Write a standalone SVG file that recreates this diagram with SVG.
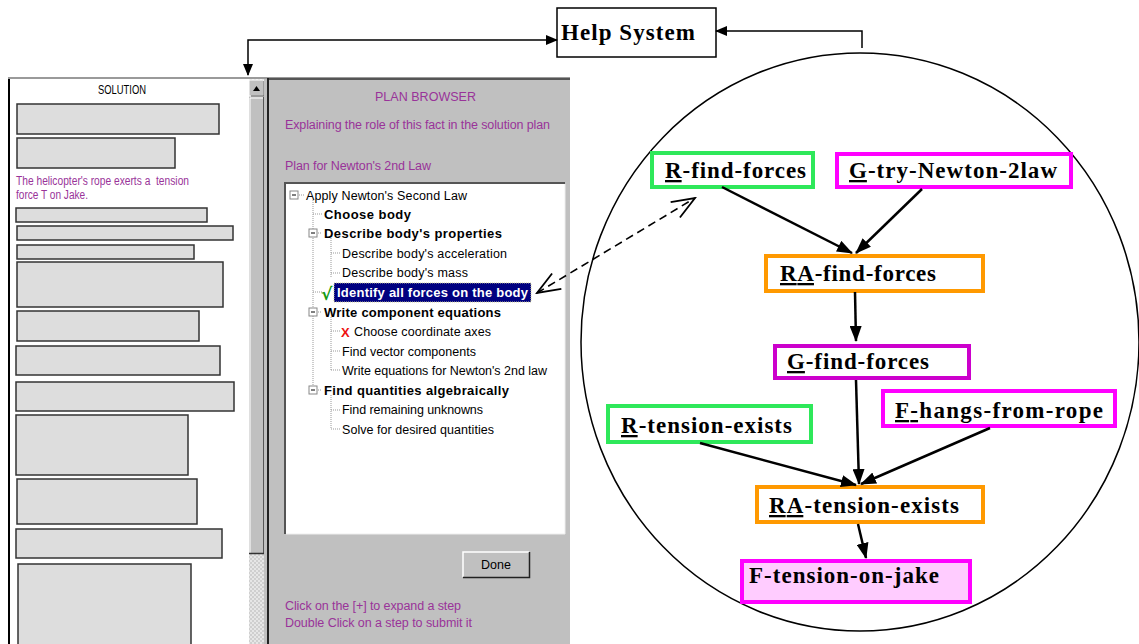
<svg xmlns="http://www.w3.org/2000/svg" width="1139" height="644" viewBox="0 0 1139 644">
<defs>
<marker id="ah" markerUnits="userSpaceOnUse" markerWidth="16" markerHeight="12" refX="15" refY="6" orient="auto">
<path d="M0,0 L16,6 L0,12 z" fill="#000"/>
</marker>
<marker id="sh" markerUnits="userSpaceOnUse" markerWidth="12" markerHeight="10" refX="11" refY="5" orient="auto-start-reverse">
<path d="M0,0 L12,5 L0,10 z" fill="#000"/>
</marker>
<marker id="oh" markerUnits="userSpaceOnUse" markerWidth="26" markerHeight="22" refX="24" refY="11" orient="auto-start-reverse">
<path d="M1,2 L24,11 L1,20" fill="none" stroke="#000" stroke-width="1.8"/>
</marker>
<pattern id="chk" width="4" height="4" patternUnits="userSpaceOnUse">
<rect width="4" height="4" fill="#e6e6e6"/>
<rect width="2" height="2" fill="#cfcfcf"/>
<rect x="2" y="2" width="2" height="2" fill="#cfcfcf"/>
</pattern>
</defs>
<style>
.ui{font-family:"Liberation Sans",Arial,sans-serif;font-size:12.5px;fill:#000}
.pu{fill:#993399}
.bd{font-weight:bold;font-size:13px}
.gb{fill:#dddddd;stroke:#333;stroke-width:1.5}
.nd{font-family:"Liberation Serif","Times New Roman",serif;font-weight:bold;font-size:23px;fill:#000}
.nb{fill:#fff;stroke-width:4}
.ed{stroke:#000;stroke-width:2.5;fill:none;marker-end:url(#ah)}
.dl{stroke:#999;stroke-width:1;stroke-dasharray:1,1;fill:none}
.u{text-decoration:underline}
</style>
<rect width="1139" height="644" fill="#fff"/>

<!-- Solution window -->
<g id="solution">
<rect x="8" y="77" width="562" height="3" fill="#9a9a9a"/>
<rect x="8" y="79" width="242" height="565" fill="#fff"/>
<rect x="8" y="79" width="2" height="565" fill="#000"/>
<text class="ui" x="98" y="94" font-size="10.5" textLength="48" lengthAdjust="spacingAndGlyphs">SOLUTION</text>
<rect class="gb" x="17" y="104" width="202" height="30"/>
<rect class="gb" x="17" y="138" width="158" height="30"/>
<text class="ui pu" x="16" y="185" font-size="10.5" textLength="173" lengthAdjust="spacingAndGlyphs" xml:space="preserve">The helicopter's rope exerts a  tension</text>
<text class="ui pu" x="16" y="199" font-size="10.5" textLength="72" lengthAdjust="spacingAndGlyphs">force T on Jake.</text>
<rect class="gb" x="16" y="208" width="191" height="14"/>
<rect class="gb" x="17" y="226" width="216" height="14"/>
<rect class="gb" x="17" y="245" width="177" height="14"/>
<rect class="gb" x="17" y="262" width="206" height="45"/>
<rect class="gb" x="17" y="311" width="182" height="30"/>
<rect class="gb" x="16" y="346" width="204" height="29"/>
<rect class="gb" x="16" y="382" width="218" height="29"/>
<rect class="gb" x="16" y="415" width="172" height="60"/>
<rect class="gb" x="17" y="479" width="180" height="45"/>
<rect class="gb" x="16" y="529" width="206" height="29"/>
<rect class="gb" x="18" y="564" width="173" height="90"/>
<!-- scrollbar -->
<rect x="249" y="79" width="16" height="565" fill="url(#chk)"/>
<rect x="249" y="80" width="16" height="473" fill="#c0c0c0"/>
<rect x="249" y="80" width="15" height="16" fill="#c0c0c0" stroke="#fff" stroke-width="1"/>
<path d="M251,96 H264 V81" stroke="#555" fill="none"/>
<path d="M253,91 L256.5,86 L260,91 z" fill="#000"/>
<rect x="249" y="97" width="15" height="456" fill="#c0c0c0"/>
<path d="M250,553 V98 H263" stroke="#fff" fill="none"/>
<path d="M249,553.5 H264 V97" stroke="#333" stroke-width="1.5" fill="none"/>
<rect x="264" y="79" width="6" height="565" fill="#c0c0c0"/>
</g>

<!-- Plan browser window -->
<g id="planbrowser">
<rect x="268" y="78" width="302" height="566" fill="#c0c0c0"/>
<rect x="267" y="78" width="2" height="566" fill="#222"/>
<rect x="269" y="78" width="301" height="2" fill="#555"/>
<text class="ui pu" x="375" y="101" textLength="101">PLAN BROWSER</text>
<text class="ui pu" x="285" y="129" textLength="265">Explaining the role of this fact in the solution plan</text>
<text class="ui pu" x="285" y="170" textLength="146">Plan for Newton's 2nd Law</text>
<rect x="285" y="183" width="280" height="351" fill="#fff"/>
<path d="M285,534 V183 H565" stroke="#555" stroke-width="2" fill="none"/>
<path d="M286,534 H565 V184" stroke="#eee" stroke-width="1" fill="none"/>
<!-- tree lines -->
<path class="dl" d="M313,200 V393 M299,195 H304 M313,214 H322 M318,233 H322 M331,238 V277 M331,253 H340 M331,273 H340 M313,292 H322 M318,312 H322 M331,317 V370 M331,331 H340 M331,351 H340 M331,370 H340 M318,390 H322 M331,395 V429 M331,410 H340 M331,429 H340"/>
<g fill="#fff" stroke="#888" stroke-width="1">
<rect x="290" y="191" width="8" height="8"/>
<rect x="309" y="229" width="8" height="8"/>
<rect x="309" y="308" width="8" height="8"/>
<rect x="309" y="386" width="8" height="8"/>
</g>
<path d="M292,195 H296 M311,233 H315 M311,312 H315 M311,390 H315" stroke="#000" stroke-width="1"/>
<text class="ui" x="306" y="200" textLength="161">Apply Newton's Second Law</text>
<text class="ui bd" x="324" y="219" textLength="87">Choose body</text>
<text class="ui bd" x="324" y="238" textLength="178">Describe body's properties</text>
<text class="ui" x="342" y="258" textLength="165">Describe body's acceleration</text>
<text class="ui" x="342" y="277" textLength="126">Describe body's mass</text>
<rect x="334" y="283" width="197" height="19" fill="#000080" stroke="#cc9" stroke-dasharray="1,1"/>
<text x="321" y="300" style="fill:#119911;font-family:'DejaVu Sans',sans-serif;font-weight:bold;font-size:17px">√</text>
<text class="ui bd" x="337" y="297" style="fill:#fff" textLength="191">Identify all forces on the body</text>
<text class="ui bd" x="324" y="317" textLength="177">Write component equations</text>
<text class="ui bd" x="341" y="337" style="fill:#ee1111" font-size="15">X</text>
<text class="ui" x="354" y="336" textLength="137">Choose coordinate axes</text>
<text class="ui" x="342" y="356" textLength="134">Find vector components</text>
<text class="ui" x="342" y="375" textLength="205">Write equations for Newton's 2nd law</text>
<text class="ui bd" x="324" y="395" textLength="185">Find quantities algebraically</text>
<text class="ui" x="342" y="414" textLength="141">Find remaining unknowns</text>
<text class="ui" x="342" y="434" textLength="152">Solve for desired quantities</text>
<!-- Done button -->
<rect x="463" y="552" width="66" height="25" fill="#c0c0c0"/>
<path d="M463,577 V552 H529" stroke="#fff" stroke-width="1.5" fill="none"/>
<path d="M463,577.5 H529.5 V552" stroke="#222" stroke-width="1.5" fill="none"/>
<text class="ui" x="481" y="569" textLength="30">Done</text>
<text class="ui pu" x="285" y="610" textLength="176">Click on the [+] to expand a step</text>
<text class="ui pu" x="285" y="627" textLength="187">Double Click on a step to submit it</text>
</g>

<!-- Help System -->
<g id="help">
<rect x="557" y="8" width="159" height="49" fill="#fff" stroke="#000" stroke-width="1.5"/>
<text class="nd" x="561" y="40" font-size="22" textLength="134">Help System</text>
</g>

<!-- big circle -->
<ellipse cx="860" cy="342" rx="279" ry="289" fill="none" stroke="#000" stroke-width="1.5"/>

<!-- nodes -->
<g id="n-r-find-forces">
<rect class="nb" x="652" y="153" width="161" height="34" stroke="#2ee85a"/>
<text class="nd" x="665" y="178" textLength="141"><tspan class="u">R</tspan>-find-forces</text>
</g>
<g id="n-g-try-newton">
<rect class="nb" x="837" y="154" width="234" height="33" stroke="#ff00ff"/>
<text class="nd" x="849" y="178" textLength="208"><tspan class="u">G</tspan>-try-Newton-2law</text>
</g>
<g id="n-ra-find-forces">
<rect class="nb" x="766" y="256" width="217" height="35" stroke="#ff9900"/>
<text class="nd" x="780" y="281" textLength="156"><tspan class="u">RA</tspan>-find-forces</text>
</g>
<g id="n-g-find-forces">
<rect class="nb" x="775" y="346" width="194" height="32" stroke="#cc00cc"/>
<text class="nd" x="787" y="369" textLength="142"><tspan class="u">G</tspan>-find-forces</text>
</g>
<g id="n-f-hangs">
<rect class="nb" x="883" y="391" width="232" height="35" stroke="#ff00ff"/>
<text class="nd" x="895" y="418" textLength="208"><tspan class="u">F-</tspan>hangs-from-rope</text>
</g>
<g id="n-r-tension">
<rect class="nb" x="608" y="406" width="203" height="36" stroke="#2ee85a"/>
<text class="nd" x="621" y="433" textLength="171"><tspan class="u">R</tspan>-tension-exists</text>
</g>
<g id="n-ra-tension">
<rect class="nb" x="757" y="487" width="226" height="35" stroke="#ff9900"/>
<text class="nd" x="769" y="513" textLength="190"><tspan class="u">RA</tspan>-tension-exists</text>
</g>
<g id="n-f-tension-jake">
<rect x="742" y="561" width="228" height="41" fill="#ffccff" stroke="#ff00ff" stroke-width="4"/>
<text class="nd" x="749" y="583" textLength="190">F-tension-on-jake</text>
</g>

<!-- connectors -->
<g id="connectors">
<line class="ed" x1="722" y1="187" x2="852" y2="253"/>
<line class="ed" x1="922" y1="189" x2="856" y2="253"/>
<line class="ed" x1="855" y1="292" x2="856" y2="341"/>
<line class="ed" x1="856" y1="380" x2="859" y2="484"/>
<line class="ed" x1="700" y1="443" x2="856" y2="485"/>
<line class="ed" x1="990" y1="428" x2="861" y2="484"/>
<line class="ed" x1="858" y1="524" x2="866" y2="558"/>
<path d="M248,75 V40 H557" stroke="#000" stroke-width="1.5" fill="none" marker-start="url(#sh)" marker-end="url(#sh)"/>
<path d="M862,48 V31 H716" stroke="#000" stroke-width="1.5" fill="none" marker-end="url(#sh)"/>
<line x1="537" y1="293" x2="695" y2="198" stroke="#000" stroke-width="1.6" stroke-dasharray="8,5" marker-start="url(#oh)" marker-end="url(#oh)"/>
</g>
</svg>
